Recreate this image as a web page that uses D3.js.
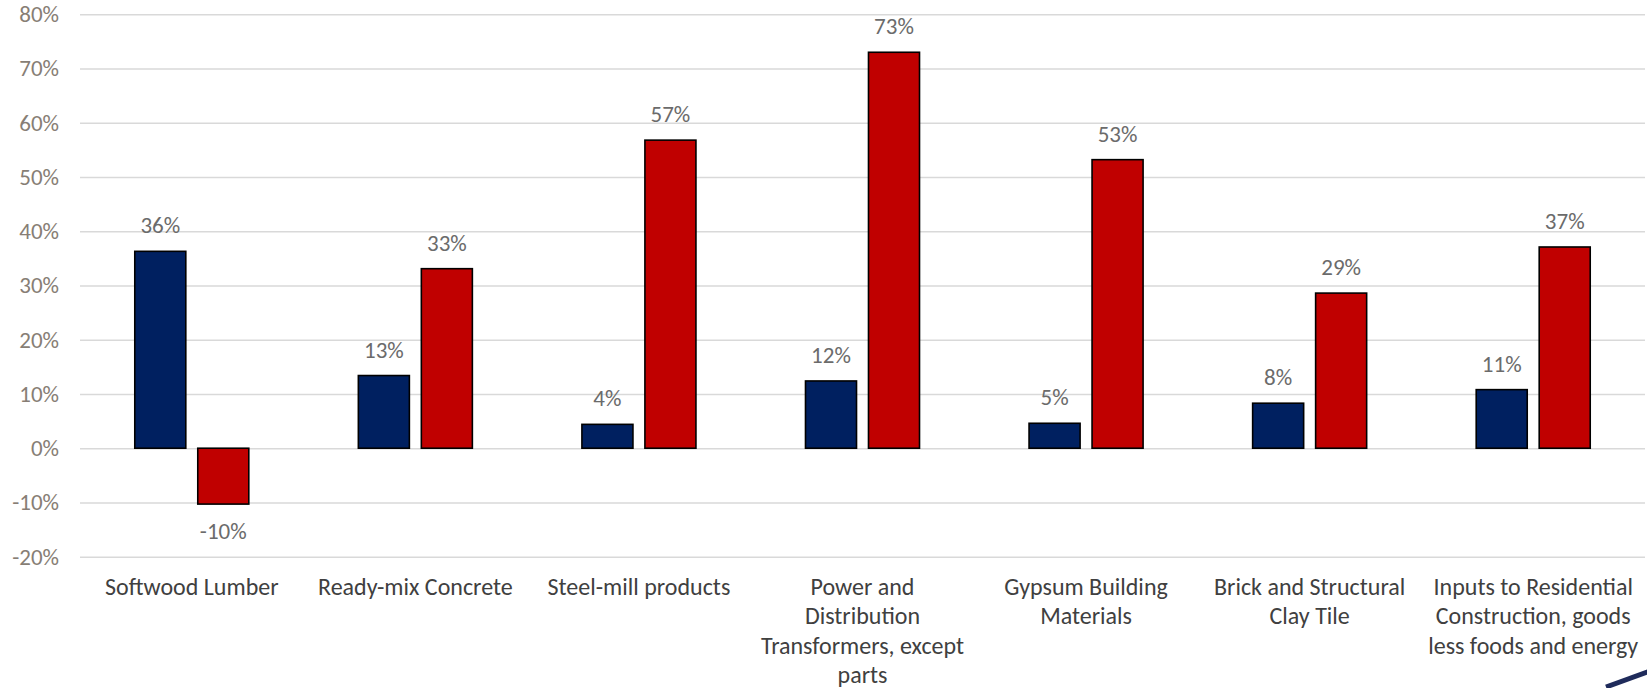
<!DOCTYPE html>
<html>
<head>
<meta charset="utf-8">
<script src="https://cdn.jsdelivr.net/npm/d3@7"></script>
<style>
  html, body { margin: 0; padding: 0; background: #fff; }
  svg { display: block; font-family: Carlito, Calibri, Lato, sans-serif; }
</style>
</head>
<body>
<svg id="chart" width="1647" height="688"></svg>
<script>
// Category labels, line breaks as in the original
const categories = [
  "Softwood Lumber",
  "Ready-mix Concrete",
  "Steel-mill products",
  "Power and\nDistribution\nTransformers, except\nparts",
  "Gypsum Building\nMaterials",
  "Brick and Structural\nClay Tile",
  "Inputs to Residential\nConstruction, goods\nless foods and energy"
]
const series = ["blue", "red"]
const blueValues = [0.363, 0.134, 0.044, 0.124, 0.046, 0.083, 0.108]
const redValues = [-0.103, 0.331, 0.568, 0.730, 0.532, 0.286, 0.371]
const yTicks = [-0.2, -0.1, 0, 0.1, 0.2, 0.3, 0.4, 0.5, 0.6, 0.7, 0.8]

const colors = { blue: "#002060", red: "#c00000" }
const numSize = 23
const catSize = 24

const rows = categories.map((c, i) => ({ category: c, blue: blueValues[i], red: redValues[i] }))

const svg = d3.select("#chart")
const plotLeft = 80
const plotRight = 1645

const x0 = d3.scaleBand()
  .domain(categories)
  .range([plotLeft, plotRight])
  .paddingInner(0.49)
  .paddingOuter(0.245)

const x1 = d3.scaleBand()
  .domain(series)
  .range([0, x0.bandwidth()])
  .paddingInner(0.19)

const y = d3.scaleLinear()
  .domain([-0.2, 0.8])
  .range([556.7, 14.3])

const pct = v => d3.format(".0%")(v).replace("\u2212", "-")

// gridlines + tick labels
const yAxis = svg.append("g")
  .attr("transform", `translate(${plotLeft},0)`)
  .call(d3.axisLeft(y).tickValues(yTicks).tickSize(-(plotRight - plotLeft)).tickPadding(21).tickFormat(pct))
  .attr("font-family", null)
  .attr("font-size", numSize)
yAxis.select(".domain").remove()
yAxis.selectAll(".tick line").attr("stroke", "#d9d9d9").attr("stroke-width", 1.5)
yAxis.selectAll(".tick text").attr("fill", "#877e75")

// bars
const groups = svg.append("g")
  .selectAll("g")
  .data(rows)
  .join("g")
  .attr("transform", d => `translate(${x0(d.category)},0)`)

const bars = groups.selectAll("g")
  .data(d => series.map(s => ({ key: s, value: d[s] })))
  .join("g")

bars.append("rect")
  .attr("x", d => x1(d.key))
  .attr("width", x1.bandwidth())
  .attr("y", d => y(Math.max(0, d.value)))
  .attr("height", d => Math.abs(y(d.value) - y(0)))
  .attr("fill", d => colors[d.key])
  .attr("stroke", "#000")
  .attr("stroke-width", 1.6)

bars.append("text")
  .attr("x", d => x1(d.key) + x1.bandwidth() / 2)
  .attr("y", d => d.value >= 0 ? y(d.value) - 18 : y(d.value) + 35)
  .attr("text-anchor", "middle")
  .attr("font-size", numSize)
  .attr("fill", "#6b6b6b")
  .text(d => pct(d.value))

// category labels
const catLabels = svg.append("g")
  .selectAll("text")
  .data(categories)
  .join("text")
  .attr("x", d => x0(d) + x0.bandwidth() / 2)
  .attr("y", 595)
  .attr("text-anchor", "middle")
  .attr("font-size", catSize)
  .attr("fill", "#404040")

catLabels.selectAll("tspan")
  .data(d => d.split("\n"))
  .join("tspan")
  .attr("x", function () { return this.parentNode.getAttribute("x") })
  .attr("dy", (d, i) => i === 0 ? 0 : 29.4)
  .text(d => d)

// slide decoration in the corner
svg.append("line")
  .attr("x1", 1606).attr("y1", 687)
  .attr("x2", 1650).attr("y2", 671)
  .attr("stroke", "#1f2b5b")
  .attr("stroke-width", 5)
</script>
</body>
</html>
